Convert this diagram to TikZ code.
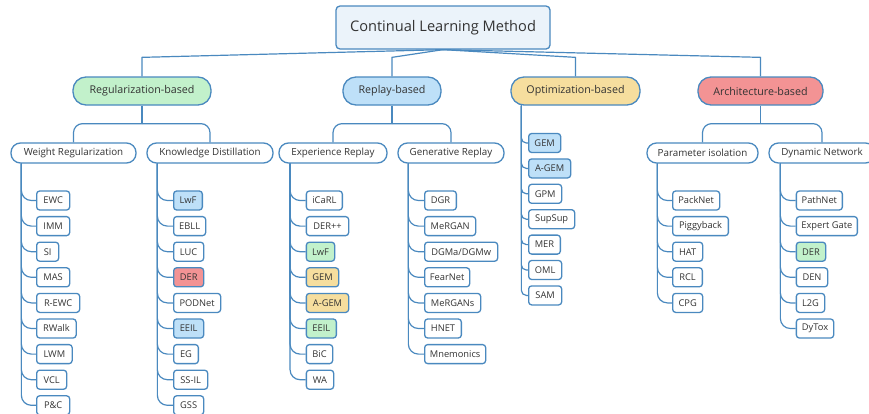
\documentclass[tikz,border=0pt]{standalone}
\usepackage{fontspec}
\setmainfont{Open Sans}
\definecolor{lineblue}{HTML}{4A89BF}
\definecolor{rootfill}{HTML}{EBF3FA}
\definecolor{gfill}{HTML}{C2F1CB}
\definecolor{bfill}{HTML}{BEE0F8}
\definecolor{yfill}{HTML}{F6DE9E}
\definecolor{rfill}{HTML}{F39394}
\definecolor{txt}{HTML}{333333}
\tikzset{
  conn/.style={draw=lineblue, line width=1.2pt},
  rootbox/.style={draw=lineblue, line width=1.3pt, fill=rootfill, rounded corners=4pt,
    minimum width=214pt, minimum height=43pt, text=txt, font=\fontsize{14.6}{17}\selectfont, inner sep=0pt},
  catbox/.style={draw=lineblue, line width=1.3pt, rounded corners=13pt,
    minimum height=28pt, text=txt, font=\fontsize{10.7}{13}\selectfont, inner sep=0pt},
  subbox/.style={draw=lineblue, line width=1.3pt, fill=white, rounded corners=9.5pt,
    minimum height=20pt, text=txt, font=\fontsize{9.8}{12}\selectfont, inner sep=0pt},
  leaf/.style={draw=lineblue, line width=1.3pt, fill=white, rounded corners=3pt,
    minimum height=19pt, text=txt, font=\fontsize{9.3}{11}\selectfont, inner sep=0pt, anchor=west},
}
\begin{document}
\begin{tikzpicture}[x=1pt,y=-1pt]
\useasboundingbox (0,0) rectangle (869,413);
\clip (0,0) rectangle (869,413);
\fill[white] (0,0) rectangle (869,413);

% root
\node[rootbox] (root) at (443,27.5) {Continual Learning Method};

% level 1
\node[catbox, fill=gfill, minimum width=138pt] (reg) at (142,91) {Regularization-based};
\node[catbox, fill=bfill, minimum width=98pt] (rep) at (392,91) {Replay-based};
\node[catbox, fill=yfill, minimum width=129pt] (opt) at (575.5,91) {Optimization-based};
\node[catbox, fill=rfill, minimum width=125pt] (arc) at (760.5,91) {Architecture-based};

\foreach \n in {reg,rep,opt,arc}
  \draw[conn] (root.south) -- ([yshift=19pt]\n.north) -- (\n.north);

% level 2
\node[subbox, minimum width=125pt] (wr) at (73.5,153) {Weight Regularization};
\node[subbox, minimum width=126pt] (kd) at (210,153) {Knowledge Distillation};
\node[subbox, minimum width=108pt] (er) at (333,153) {Experience Replay};
\node[subbox, minimum width=106pt] (gr) at (451,153) {Generative Replay};
\node[subbox, minimum width=111pt] (pi) at (702.5,153) {Parameter isolation};
\node[subbox, minimum width=106pt] (dn) at (822,153) {Dynamic Network};

\foreach \p/\a/\b in {reg/wr/kd, rep/er/gr, arc/pi/dn}{
  \draw[conn] (\p.south) -- ([yshift=-18pt]\p.south);
  \draw[conn, rounded corners=9pt] (\a.north) |- ([yshift=-18pt]\p.south);
  \draw[conn, rounded corners=9pt] (\b.north) |- ([yshift=-18pt]\p.south);
}

% Weight Regularization leaves
\foreach \i/\t/\w/\f in {0/EWC/33/white,1/IMM/33/white,2/SI/22/white,3/MAS/33/white,4/R-EWC/43/white,5/RWalk/39.5/white,6/LWM/35.5/white,7/VCL/30/white,8/P\&C/33/white}{
  \node[leaf, fill=\f, minimum width=\w pt] (wr\i) at (36,200.5+25.6*\i) {\t};
  \draw[conn, rounded corners=10pt] ([xshift=11pt]wr.south west) |- (wr\i.west);
}
% Knowledge Distillation leaves
\foreach \i/\t/\w/\f in {0/LwF/28.7/bfill,1/EBLL/32/white,2/LUC/30/white,3/DER/30/rfill,4/PODNet/47/white,5/EEIL/30/bfill,6/EG/24.7/white,7/SS-IL/34/white,8/GSS/30/white}{
  \node[leaf, fill=\f, minimum width=\w pt] (kd\i) at (173,200.5+25.6*\i) {\t};
  \draw[conn, rounded corners=10pt] ([xshift=11pt]kd.south west) |- (kd\i.west);
}
% Experience Replay leaves
\foreach \i/\t/\w/\f in {0/iCaRL/36/white,1/DER++/42.3/white,2/LwF/28.3/gfill,3/GEM/32.3/yfill,4/A-GEM/42.3/yfill,5/EEIL/30/gfill,6/BiC/26.3/white,7/WA/27.3/white}{
  \node[leaf, fill=\f, minimum width=\w pt] (er\i) at (305.7,200.5+25.6*\i) {\t};
  \draw[conn, rounded corners=10pt] ([xshift=11.7pt]er.south west) |- (er\i.west);
}
% Generative Replay leaves
\foreach \i/\t/\w/\f in {0/DGR/31.7/white,1/MeRGAN/51/white,2/{DGMa/DGMw}/73/white,3/FearNet/45/white,4/MeRGANs/56/white,5/HNET/36.7/white,6/Mnemonics/61/white}{
  \node[leaf, fill=\f, minimum width=\w pt] (gr\i) at (424,200.5+25.6*\i) {\t};
  \draw[conn, rounded corners=10pt] ([xshift=11pt]gr.south west) |- (gr\i.west);
}
% Optimization leaves
\foreach \i/\t/\w/\f in {0/GEM/32/bfill,1/A-GEM/42/bfill,2/GPM/33/white,3/SupSup/46/white,4/MER/31.7/white,5/OML/33/white,6/SAM/33/white}{
  \node[leaf, fill=\f, minimum width=\w pt] (op\i) at (528,143+25.4*\i) {\t};
  \draw[conn, rounded corners=5pt] ([xshift=11pt]opt.south west) |- (op\i.west);
}
% Parameter isolation leaves
\foreach \i/\t/\w/\f in {0/PackNet/47/white,1/Piggyback/55.7/white,2/HAT/30/white,3/RCL/29.7/white,4/CPG/30/white}{
  \node[leaf, fill=\f, minimum width=\w pt] (pi\i) at (672,200.5+25.6*\i) {\t};
  \draw[conn, rounded corners=10pt] ([xshift=11pt]pi.south west) |- (pi\i.west);
}
% Dynamic Network leaves
\foreach \i/\t/\w/\f in {0/PathNet/46/white,1/Expert Gate/61/white,2/DER/29.3/gfill,3/DEN/31.3/white,4/L2G/28.3/white,5/DyTox/37.3/white}{
  \node[leaf, fill=\f, minimum width=\w pt] (dn\i) at (795.7,200.5+25.6*\i) {\t};
  \draw[conn, rounded corners=10pt] ([xshift=12pt]dn.south west) |- (dn\i.west);
}
\end{tikzpicture}
\end{document}
